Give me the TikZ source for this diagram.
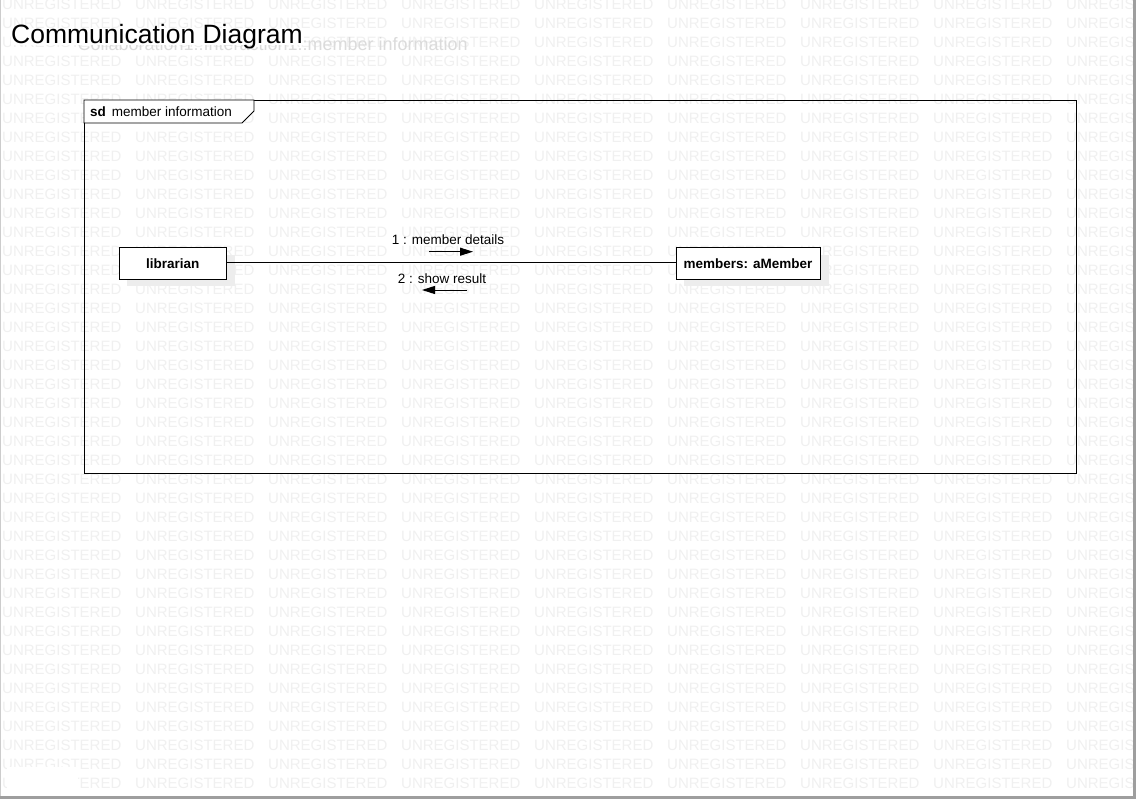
\documentclass[tikz,border=0pt]{standalone}
\usepackage{fontspec}
\setmainfont{Liberation Sans}
\usetikzlibrary{arrows.meta}
\begin{document}
\begin{tikzpicture}[x=1pt,y=-1pt,
  wm/.style={anchor=west,inner sep=0pt,text=black!6,font=\fontsize{15}{18}\selectfont},
  obj/.style={draw=black,fill=white,line width=0.9pt,inner sep=0pt,font=\fontsize{13.5}{16}\selectfont\bfseries},
  shadowbox/.style={fill=black!7,draw=none},
  msg/.style={inner sep=0pt,font=\fontsize{13.5}{16}\selectfont},
  msgarrow/.style={line width=0.9pt,-{Triangle[length=13pt,width=8pt]}},
  link/.style={line width=0.9pt}]
\useasboundingbox (0,0) rectangle (1136,799);
\fill[white] (0,0) rectangle (1136,799);
% watermark
\foreach \i in {0,...,8}{
  \foreach \j in {0,...,41}{
    \node[wm] (w-\i-\j) at ({2+133*\i},{4.5+19*\j}) {UNREGISTERED};
  }
}
\fill[white] (7,767) rectangle (78,795);
% page edges
\draw[black!20,line width=1pt] (0.5,0) -- (0.5,799);
\draw[black!38,line width=3pt] (1134.5,0) -- (1134.5,799);
\draw[black!38,line width=3pt] (0,797.5) -- (1136,797.5);
% ghost text and title
\node[anchor=base east,inner sep=0pt,text=black!14,font=\fontsize{18}{21}\selectfont] (ghost) at (468,50.5) {Collaboration1::Interaction1::member information};
\fill[white] (11,31) rectangle (304,45.5);
\node[anchor=base west,inner sep=0pt,font=\fontsize{26.5}{30}\selectfont] (title) at (11,43.5) {Communication Diagram};
% frame
\draw[line width=0.9pt] (84,100) rectangle (1076,473);
\draw[line width=0.9pt,fill=white] (84,100) -- (254,100) -- (254,111) -- (242,123) -- (84,123) -- cycle;
\node[anchor=base west,inner sep=0pt,font=\fontsize{13.5}{16}\selectfont] (tab) at (90,117) {\textbf{sd}\, member information};
% shadows
\fill[shadowbox] (127,255) rectangle (235,286);
\fill[shadowbox] (684,255) rectangle (829,286);
% objects
\node[obj,minimum width=107pt,minimum height=32.5pt] (lib) at (172.7,263.6) {librarian};
\node[obj,minimum width=144pt,minimum height=32.5pt] (mem) at (748,263.6) {members: aMember};
\draw[link] (lib.east |- 0,262.3) -- (mem.west |- 0,262.3);
% messages
\coordinate (m1s) at (429,251.7);
\coordinate (m1e) at (473,251.7);
\coordinate (m2s) at (467,290);
\coordinate (m2e) at (422,290);
\draw[msgarrow] (m1s) -- (m1e);
\draw[msgarrow] (m2s) -- (m2e);
\node[msg,anchor=base] (l1) at (448,245) {1 : member details};
\node[msg,anchor=base] (l2) at (442,283.3) {2 : show result};
\end{tikzpicture}
\end{document}
